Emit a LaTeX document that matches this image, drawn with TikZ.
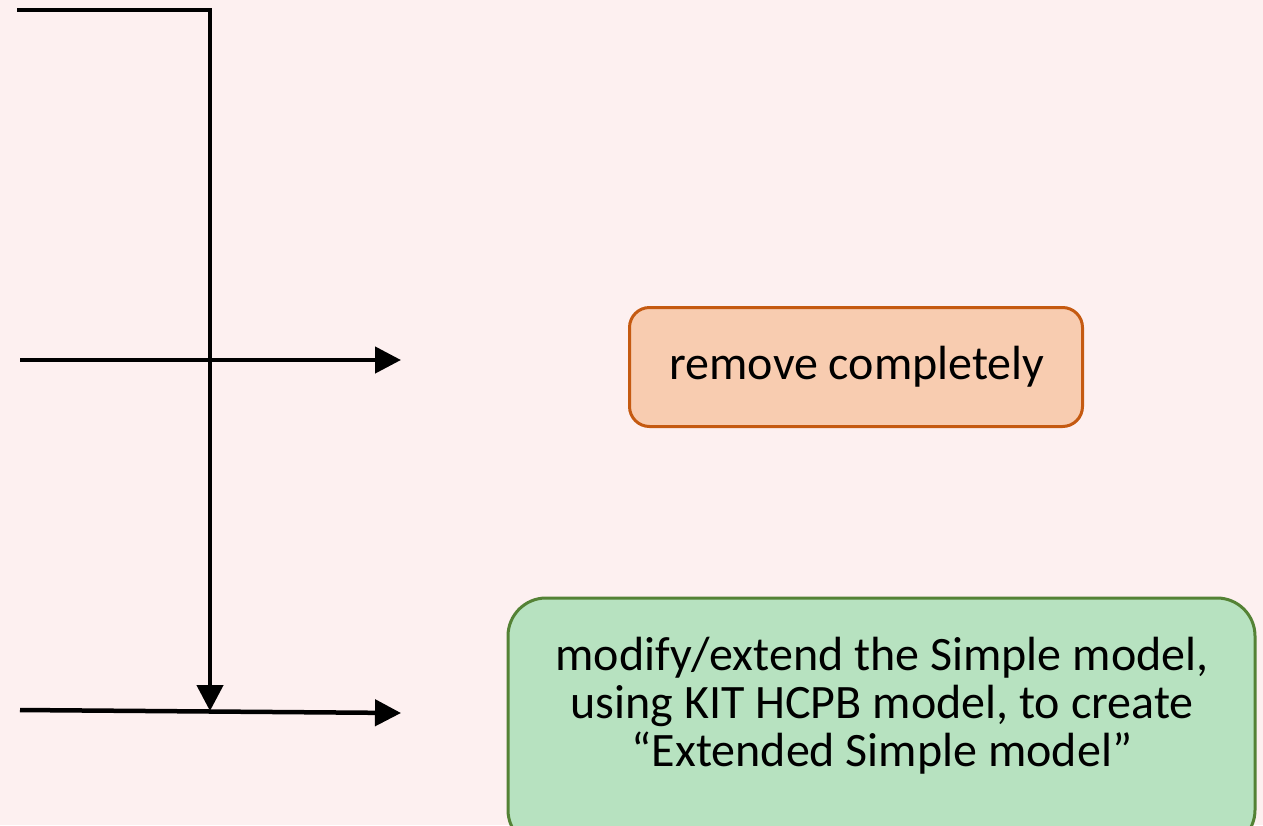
\documentclass[tikz,border=0pt]{standalone}
\usepackage{fontspec}
\setmainfont{Carlito}
\usetikzlibrary{arrows.meta}
\definecolor{bg}{RGB}{253,240,240}
\definecolor{orfill}{RGB}{248,204,176}
\definecolor{ordraw}{RGB}{197,90,17}
\definecolor{grfill}{RGB}{183,226,192}
\definecolor{grdraw}{RGB}{84,130,53}
\tikzset{
  conn/.style={line width=4.5pt, black},
  tip/.style={-{Triangle[length=26pt,width=26pt]}},
  box/.style={line width=3pt, inner sep=0pt},
  lbl/.style={align=center, inner sep=0pt, font=\fontsize{48}{48}\selectfont},
}
\begin{document}
\begin{tikzpicture}[x=1pt,y=-1pt]
\fill[bg] (0,0) rectangle (1263,825);
\useasboundingbox (0,0) rectangle (1263,825);
\node[box, rounded corners=20pt, fill=orfill, draw=ordraw, minimum width=453pt, minimum height=119pt] (rm) at (856,367) {};
\node[lbl] (rmt) at (857,367) {remove completely};
\node[box, rounded corners=38pt, fill=grfill, draw=grdraw, minimum width=747pt, minimum height=250pt] (ext) at (881.5,723) {};
\node[lbl] (extt) at (882,706) {modify/extend the Simple model,\\using KIT HCPB model, to create\\“Extended Simple model”};
\coordinate (a0) at (17,10);
\coordinate (a1) at (210,10);
\coordinate (a2) at (210,711);
\coordinate (b0) at (20,360);
\coordinate (b1) at (401,360);
\coordinate (c0) at (20,710);
\coordinate (c1) at (401,713);
\draw[conn, tip] (a0) -- (a1) -- (a2);
\draw[conn, tip] (b0) -- (b1);
\draw[conn, tip] (c0) -- (c1);
\end{tikzpicture}
\end{document}
